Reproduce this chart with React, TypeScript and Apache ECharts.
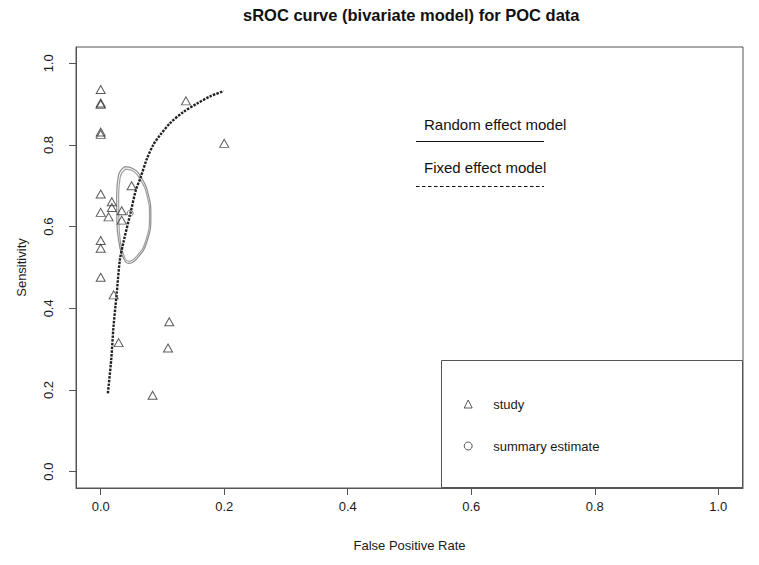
import React, { useEffect, useRef } from "react";
import * as echarts from "echarts";

const FONT = "'Liberation Sans', Arial, Helvetica, sans-serif";

// Axis ticks
const xTicks = [0, 0.2, 0.4, 0.6, 0.8, 1.0];
const yTicks = [0, 0.2, 0.4, 0.6, 0.8, 1.0];

// Individual studies (false positive rate, sensitivity)
const studyFpr = [0, 0, 0, 0, 0, 0.138, 0.2, 0.05, 0, 0.018, 0.018, 0, 0.0127, 0.034, 0.034, 0, 0, 0, 0.021, 0.111, 0.109, 0.029, 0.084];
const studySens = [0.936, 0.903, 0.9, 0.832, 0.826, 0.908, 0.804, 0.7, 0.68, 0.661, 0.647, 0.635, 0.624, 0.639, 0.616, 0.566, 0.547, 0.476, 0.433, 0.367, 0.303, 0.316, 0.187];

// Summary estimate
const summaryFpr = [0.0477];
const summarySens = [0.633];

// sROC curve
const curveFpr = [0.0116, 0.017, 0.0207, 0.026, 0.031, 0.037, 0.048, 0.057, 0.064, 0.075, 0.085, 0.096, 0.112, 0.134, 0.1555, 0.177, 0.199];
const curveSens = [0.192, 0.274, 0.355, 0.437, 0.518, 0.563, 0.632, 0.69, 0.718, 0.767, 0.8, 0.824, 0.853, 0.881, 0.901, 0.919, 0.932];

// Confidence region outlines (outer and inner)
const ellOuterFpr = [0.0388, 0.0526, 0.0667, 0.0773, 0.0812, 0.0748, 0.0586, 0.045, 0.0359, 0.0304, 0.0262, 0.0259, 0.0288, 0.0388];
const ellOuterSens = [0.747, 0.742, 0.718, 0.677, 0.628, 0.563, 0.522, 0.51, 0.526, 0.555, 0.612, 0.677, 0.726, 0.747];
const ellInnerFpr = [0.0396, 0.0518, 0.0647, 0.0752, 0.079, 0.0728, 0.0574, 0.0453, 0.0372, 0.0324, 0.0294, 0.0291, 0.0316, 0.0396];
const ellInnerSens = [0.741, 0.737, 0.714, 0.675, 0.628, 0.565, 0.526, 0.515, 0.531, 0.557, 0.612, 0.677, 0.721, 0.741];

const zip = (a: number[], b: number[]) => a.map((v, i) => [v, b[i]]);

export default function App() {
  const ref = useRef<HTMLDivElement>(null);
  useEffect(() => {
    if (!ref.current) return;
    const chart = echarts.init(ref.current, null, { renderer: "svg" });
    const axisColor = "#555";
    const textColor = "#1a1a1a";
    chart.setOption({
      animation: false,
      backgroundColor: "#fff",
      textStyle: { fontFamily: FONT },
      title: {
        text: "sROC curve (bivariate model) for POC data",
        left: 238,
        top: 1,
        textStyle: { fontFamily: FONT, fontSize: 16.5, fontWeight: "bold", color: "#111" },
      },
      grid: {
        left: 76,
        right: 16,
        top: 47,
        bottom: 77,
        show: true,
        borderColor: axisColor,
        borderWidth: 1,
        backgroundColor: "transparent",
      },
      xAxis: {
        type: "value",
        min: -0.04,
        max: 1.04,
        name: "False Positive Rate",
        nameLocation: "middle",
        nameGap: 51,
        nameTextStyle: { fontFamily: FONT, fontSize: 13, color: textColor },
        axisLine: { show: true, onZero: false, lineStyle: { color: axisColor, width: 1 } },
        splitLine: { show: false },
        axisTick: { show: true, inside: false, customValues: xTicks, length: 7, lineStyle: { color: axisColor, width: 1 } },
        axisLabel: {
          customValues: xTicks,
          formatter: (v: number) => v.toFixed(1),
          margin: 12,
          fontFamily: FONT,
          fontSize: 13,
          color: textColor,
        },
      },
      yAxis: {
        type: "value",
        min: -0.04,
        max: 1.04,
        name: "Sensitivity",
        nameLocation: "middle",
        nameRotate: 90,
        nameGap: 48,
        nameTextStyle: { fontFamily: FONT, fontSize: 13, color: textColor },
        axisLine: { show: true, onZero: false, lineStyle: { color: axisColor, width: 1 } },
        splitLine: { show: false },
        axisTick: { show: true, inside: false, customValues: yTicks, length: 7, lineStyle: { color: axisColor, width: 1 } },
        axisLabel: {
          customValues: yTicks,
          formatter: (v: number) => v.toFixed(1),
          rotate: 90,
          margin: 21,
          fontFamily: FONT,
          fontSize: 13,
          color: textColor,
        },
      },
      legend: {
        orient: "vertical",
        left: 463.7,
        top: 397,
        padding: 0,
        itemWidth: 8,
        itemHeight: 8,
        itemGap: 28,
        symbolKeepAspect: true,
        selectedMode: false,
        textStyle: { fontFamily: FONT, fontSize: 13, color: textColor, lineHeight: 14, padding: [0, 0, 0, 16] },
        data: [
          { name: "study", icon: "triangle", itemStyle: { color: "transparent", borderColor: "#333", borderWidth: 1 } },
          { name: "summary estimate", icon: "circle", itemStyle: { color: "transparent", borderColor: "#333", borderWidth: 1 } },
        ],
      },
      graphic: [
        {
          type: "rect",
          shape: { x: 441.5, y: 360.5, width: 301, height: 127 },
          style: { fill: "none", stroke: axisColor, lineWidth: 1 },
          silent: true,
        },
        {
          type: "text",
          x: 424,
          y: 124,
          style: { text: "Random effect model", font: `15px ${FONT}`, fill: "#111", verticalAlign: "middle", textAlign: "left" },
        },
        {
          type: "line",
          shape: { x1: 416, y1: 141.5, x2: 544, y2: 141.5 },
          style: { stroke: "#111", lineWidth: 1 },
        },
        {
          type: "text",
          x: 424,
          y: 167,
          style: { text: "Fixed effect model", font: `15px ${FONT}`, fill: "#111", verticalAlign: "middle", textAlign: "left" },
        },
        {
          type: "line",
          shape: { x1: 416, y1: 186.5, x2: 544, y2: 186.5 },
          style: { stroke: "#111", lineWidth: 1, lineDash: [3.5, 2.5] },
        },
      ],
      series: [
        {
          name: "confidence region",
          type: "line",
          data: zip(ellOuterFpr, ellOuterSens),
          showSymbol: false,
          smooth: 0.5,
          lineStyle: { color: "#8c8c8c", width: 1.2 },
          silent: true,
          z: 2,
        },
        {
          name: "confidence region 2",
          type: "line",
          data: zip(ellInnerFpr, ellInnerSens),
          showSymbol: false,
          smooth: 0.5,
          lineStyle: { color: "#a0a0a0", width: 1.2 },
          silent: true,
          z: 2,
        },
        {
          name: "sROC",
          type: "line",
          data: zip(curveFpr, curveSens),
          showSymbol: false,
          smooth: 0.3,
          lineStyle: { color: "#222", width: 2.4, type: [2.5, 1.2] },
          silent: true,
          z: 3,
        },
        {
          name: "study",
          type: "scatter",
          data: zip(studyFpr, studySens),
          symbol: "triangle",
          symbolSize: [9, 8],
          itemStyle: { color: "transparent", borderColor: "#333", borderWidth: 1 },
          z: 4,
        },
        {
          name: "summary estimate",
          type: "scatter",
          data: zip(summaryFpr, summarySens),
          symbol: "circle",
          symbolSize: 6,
          itemStyle: { color: "transparent", borderColor: "#555", borderWidth: 1 },
          z: 5,
        },
      ],
    });
    return () => chart.dispose();
  }, []);
  return <div ref={ref} style={{ width: 759, height: 565, position: "absolute", left: 0, top: 0 }} />;
}
